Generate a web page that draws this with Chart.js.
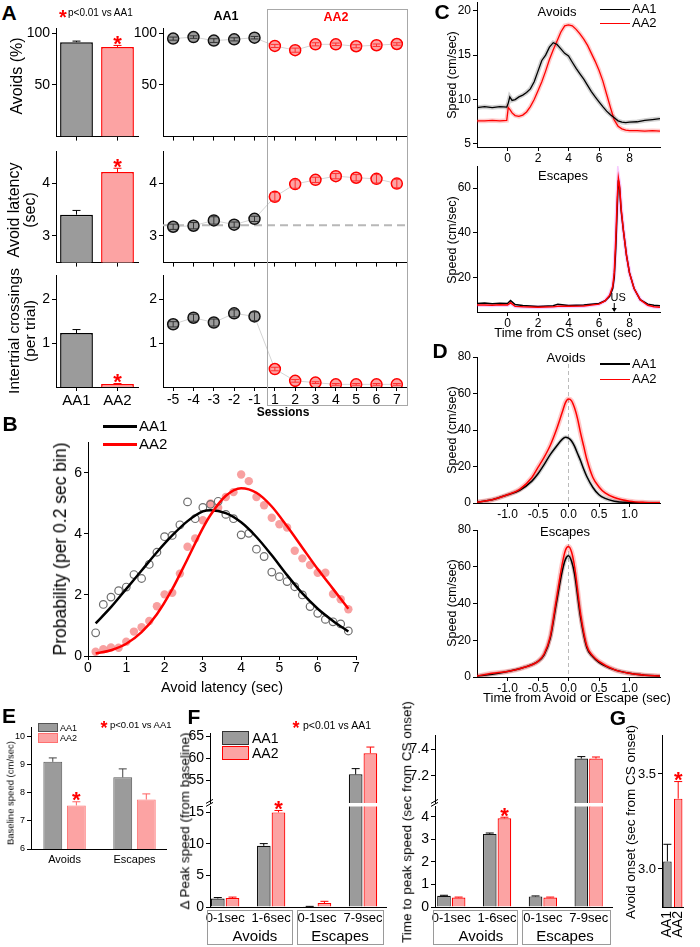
<!DOCTYPE html>
<html>
<head>
<meta charset="utf-8">
<script src="https://cdn.jsdelivr.net/npm/chart.js@4.4.1/dist/chart.umd.min.js"></script>
<style>
body { margin: 0; background: #fff; }
#fig { position: relative; width: 700px; height: 947px; overflow: hidden; background: #fff;
       font-family: 'Liberation Sans', Arial, sans-serif; color: #000; }
#fig canvas { position: absolute; }
#fig div { position: absolute; white-space: nowrap; line-height: 1.15; }
</style>
</head>
<body>
<div id="fig"></div>
<script>
// ---------- data ----------
const groups = ['AA1', 'AA2'];
// A, left column (group means)
const avoidPct = [91.5, 86.8], avoidPctErr = [1.0, 1.5];
const avoidLat = [3.4, 4.21], avoidLatErr = [0.08, 0.07];
const crossings = [1.23, 0.07], crossingsErr = [0.08, 0.01];

// A, right column (per session)
const sessions = ['-5', '-4', '-3', '-2', '-1', '1', '2', '3', '4', '5', '6', '7'];
const sesAvoidAA1 = [94.9, 96.4, 93.0, 94.2, 95.8];
const sesAvoidAA2 = [87.8, 83.7, 89.4, 89.4, 87.5, 88.5, 89.7];
const sesAvoidErr = [1.5, 1.2, 1.8, 1.5, 1.2, 1.5, 2.0, 1.5, 1.2, 1.5, 1.2, 1.2];
const sesLatAA1 = [3.17, 3.19, 3.29, 3.21, 3.32];
const sesLatAA2 = [3.74, 3.98, 4.06, 4.13, 4.1, 4.08, 3.99];
const sesLatErr = [0.05, 0.06, 0.07, 0.05, 0.05, 0.08, 0.08, 0.05, 0.05, 0.06, 0.08, 0.08];
const refLatency = 3.2;
const sesCrossAA1 = [1.43, 1.58, 1.47, 1.68, 1.61];
const sesCrossAA2 = [0.41, 0.14, 0.1, 0.06, 0.06, 0.06, 0.06];
const sesCrossErr = [0.06, 0.08, 0.08, 0.08, 0.1, 0.04, 0.03, 0.02, 0.02, 0.02, 0.02, 0.02];

// B, latency distributions
const bBins = [0.2, 0.4, 0.6, 0.8, 1.0, 1.2, 1.4, 1.6, 1.8, 2.0, 2.2, 2.4, 2.6, 2.8, 3.0, 3.2, 3.4,
               3.6, 3.8, 4.0, 4.2, 4.4, 4.6, 4.8, 5.0, 5.2, 5.4, 5.6, 5.8, 6.0, 6.2, 6.4, 6.6, 6.8];
const bAA1 = [0.76, 1.69, 1.93, 2.14, 2.26, 2.67, 2.54, 3.0, 3.4, 3.91, 3.95, 4.3, 5.05, 4.5, 4.87, 4.97, 5.07,
              4.64, 4.5, 3.97, 4.02, 3.5, 3.26, 2.75, 2.6, 2.44, 2.27, 2.0, 1.62, 1.4, 1.2, 1.12, 1.05, 0.82];
const bAA2 = [0.14, 0.22, 0.28, 0.27, 0.47, 0.8, 0.94, 1.15, 1.63, 2.02, 2.07, 2.7, 3.58, 3.85, 4.45, 5.0, 4.86,
              5.21, 5.37, 5.95, 5.73, 5.21, 4.94, 4.53, 4.32, 4.21, 3.45, 3.2, 2.98, 2.73, 2.73, 2.03, 1.86, 1.53];
const bFitX = [0.2, 0.6, 1.0, 1.4, 1.8, 2.2, 2.6, 3.0, 3.2, 3.6, 4.0, 4.4, 4.8, 5.2, 5.6, 6.0, 6.4, 6.8];
const bFitAA1 = [1.07, 1.6, 2.2, 2.8, 3.4, 3.95, 4.42, 4.74, 4.78, 4.68, 4.38, 3.9, 3.3, 2.65, 2.05, 1.55, 1.15, 0.8];
const bFitAA2 = [0.08, 0.19, 0.4, 0.78, 1.37, 2.19, 3.18, 4.19, 4.62, 5.25, 5.5, 5.35, 4.9, 4.25, 3.55, 2.85, 2.2, 1.55];
const bTicks = [0, 1, 2, 3, 4, 5, 6, 7];

// C, speed from CS onset
const cAvT = [-2, -1.5, -1, -0.5, -0.05, 0.05, 0.15, 0.3, 0.5, 0.75, 1, 1.25, 1.5, 1.75, 2, 2.25, 2.5, 2.75, 3,
              3.25, 3.5, 3.75, 4, 4.25, 4.5, 4.75, 5, 5.25, 5.5, 5.75, 6, 6.25, 6.5, 6.75, 7, 7.25, 7.5, 7.75, 8,
              8.5, 9, 9.5, 10];
const cAvAA1 = [9.1, 9.2, 9.1, 9.2, 9.15, 9.6, 10.3, 9.9, 10.0, 10.3, 10.5, 10.8, 11.2, 12.0, 13.2, 14.4, 15.0,
                15.9, 16.4, 16.2, 15.7, 15.2, 14.9, 14.2, 13.5, 12.9, 12.3, 11.6, 10.9, 10.3, 9.75, 9.2, 8.7,
                8.3, 7.95, 7.6, 7.45, 7.4, 7.45, 7.5, 7.65, 7.75, 7.85];
const cAvAA2 = [7.6, 7.6, 7.65, 7.6, 7.65, 9.1, 8.9, 8.5, 8.2, 8.1, 8.25, 8.6, 9.2, 10.0, 11.0, 12.0, 13.2,
                14.5, 15.6, 16.6, 17.6, 18.3, 18.4, 18.3, 17.9, 17.4, 16.8, 16.1, 15.2, 14.3, 13.3, 12.1, 10.6,
                9.1, 7.7, 7.0, 6.7, 6.55, 6.5, 6.5, 6.45, 6.5, 6.45];
const cEsT = [-2, -1.5, -1, -0.5, 0, 0.2, 0.5, 1, 2, 3, 3.3, 4, 5, 6, 6.4, 6.7, 6.9, 7.0, 7.1, 7.2, 7.27,
              7.35, 7.45, 7.6, 7.8, 8.0, 8.3, 8.7, 9.2, 9.6, 10];
const cEsAA1 = [8.3, 8.5, 8.2, 8.4, 8.3, 9.6, 7.8, 7.4, 7.0, 7.3, 8.0, 7.4, 7.6, 8.3, 9.5, 11.5, 15, 20, 33, 52,
                63.5, 60, 50, 41, 30, 22, 15, 10, 8, 7.5, 7.3];
const cEsAA2 = [7.6, 7.6, 7.5, 7.7, 7.6, 8.6, 7.0, 6.8, 6.6, 6.8, 7.0, 7.0, 7.2, 8.0, 9.5, 12, 16, 22, 37, 56,
                64.5, 61, 51, 41, 30, 22, 15, 10, 7.5, 6.8, 6.6];
const usTime = 7;

// D, speed around the response
const dAvT = [-1.5, -1.25, -1.0, -0.8, -0.6, -0.5, -0.4, -0.3, -0.2, -0.1, -0.05, 0, 0.05, 0.1, 0.15, 0.2,
              0.25, 0.3, 0.4, 0.5, 0.6, 0.75, 1.0, 1.25, 1.5];
const dAvAA1 = [0.5, 1.8, 4.5, 7, 12, 16, 21, 26.5, 31, 35, 36, 35.5, 34, 31, 27, 23, 18.5, 14.5, 8.5, 4.5, 2.5,
                1.0, 0.3, 0.1, 0];
const dAvAA2 = [0.5, 1.8, 4.5, 7.5, 14, 19.5, 25, 31.5, 40, 50, 55, 57, 56, 52, 46, 38, 31, 24, 14, 8.8, 5.5,
                3, 1.0, 0.3, 0.1];
const dEsT = [-1.5, -1.25, -1.0, -0.75, -0.5, -0.4, -0.3, -0.2, -0.1, -0.05, 0, 0.05, 0.1, 0.2, 0.3, 0.4, 0.5,
              0.75, 1.0, 1.25, 1.5];
const dEsAA1 = [0.5, 1.5, 3, 5, 8.5, 12, 21, 40, 58, 64, 66, 63, 56, 32, 16, 11, 8, 4, 2, 1, 0.5];
const dEsAA2 = [0.5, 2.0, 3, 5, 8.5, 12.5, 22, 42, 62, 69, 71, 68, 60, 34, 17, 11.5, 8.5, 4, 2, 1, 0.5];

// E, baseline speed
const baseCats = ['Avoids', 'Escapes'];
const baseAA1 = [9.1, 8.55], baseAA1Err = [0.14, 0.3];
const baseAA2 = [7.55, 7.76], baseAA2Err = [0.13, 0.2];

// F, peak speed and time to peak
const fCats = ['0-1sec', '1-6sec', '0-1sec', '7-9sec'];
const peakAA1 = [1.35, 9.7, 0.05, 56.3], peakAA1Err = [0.15, 0.35, 0.05, 1.3];
const peakAA2 = [1.42, 15.0, 0.63, 61.1], peakAA2Err = [0.15, 0.3, 0.27, 1.4];
const tpAA1 = [0.5, 3.24, 0.47, 7.33], tpAA1Err = [0.02, 0.04, 0.02, 0.015];
const tpAA2 = [0.42, 3.93, 0.42, 7.33], tpAA2Err = [0.02, 0.05, 0.02, 0.012];

// G, avoid onset
const onset = [3.04, 3.37], onsetErr = [0.09, 0.09];

// ---------- helpers ----------
const GREY = '#9b9b9b', PINK = '#fca3a3', RED = '#ff0000';
Chart.defaults.font.family = "'Liberation Sans', Arial, sans-serif";
Chart.defaults.color = '#000';
const fig = document.getElementById('fig');

// error bars (and significance stars) drawn from the y scale
const errBars = {
  id: 'errBars',
  afterDatasetsDraw(chart) {
    const ctx = chart.ctx, a = chart.chartArea, ys = chart.scales.y;
    chart.data.datasets.forEach((ds, i) => {
      if (!ds.err) return;
      chart.getDatasetMeta(i).data.forEach((el, j) => {
        const raw = ds.data[j];
        const v = typeof raw === 'object' ? raw.y : raw;
        const e = ds.err[j];
        const col = Array.isArray(ds.errColor) ? ds.errColor[j] : ds.errColor;
        const top = ys.getPixelForValue(v + e);
        const bot = ys.getPixelForValue(ds.errBoth ? v - e : v);
        const cw = ds.capW || 4;
        ctx.save();
        ctx.beginPath();
        ctx.rect(a.left, a.top, a.right - a.left, a.bottom - a.top);
        ctx.clip();
        ctx.strokeStyle = col;
        ctx.lineWidth = 1;
        ctx.beginPath();
        ctx.moveTo(el.x, bot); ctx.lineTo(el.x, top);
        ctx.moveTo(el.x - cw, top); ctx.lineTo(el.x + cw, top);
        if (ds.errBoth) { ctx.moveTo(el.x - cw, bot); ctx.lineTo(el.x + cw, bot); }
        ctx.stroke();
        ctx.restore();
        if (ds.star && ds.star[j]) {
          ctx.save();
          ctx.fillStyle = RED;
          ctx.font = "bold 22px 'Liberation Sans', Arial";
          ctx.textAlign = 'center';
          ctx.fillText('*', el.x, top - 7 + 0.57 * 22);
          ctx.restore();
        }
      });
    });
  }
};

// dashed reference line
const refLine = {
  id: 'refLine',
  beforeDatasetsDraw(chart, args, opt) {
    if (!opt || opt.value === undefined) return;
    const ctx = chart.ctx, a = chart.chartArea;
    ctx.save();
    ctx.strokeStyle = opt.color || '#b5b5b5';
    ctx.lineWidth = opt.width || 1;
    ctx.setLineDash(opt.dash || [4, 3]);
    ctx.beginPath();
    if (opt.axis === 'x') {
      const x = chart.scales.x.getPixelForValue(opt.value);
      ctx.moveTo(x, a.top); ctx.lineTo(x, a.bottom);
    } else {
      const y = chart.scales.y.getPixelForValue(opt.value);
      ctx.moveTo(a.left, y); ctx.lineTo(a.right, y);
    }
    ctx.stroke();
    ctx.restore();
  }
};

// axis break marks on the lower half of a broken axis
const brk = {
  id: 'brk',
  afterDraw(chart) {
    const ctx = chart.ctx, x = chart.chartArea.left, y = chart.chartArea.top;
    ctx.save();
    ctx.strokeStyle = '#000'; ctx.lineWidth = 1;
    ctx.beginPath();
    ctx.moveTo(x - 4, y); ctx.lineTo(x + 3, y - 4);
    ctx.moveTo(x - 4, y - 3); ctx.lineTo(x + 3, y - 7);
    ctx.stroke();
    ctx.restore();
  }
};

// US arrow in the escape trace
const usMark = {
  id: 'usMark',
  afterDraw(chart) {
    const ctx = chart.ctx, b = chart.chartArea.bottom;
    const x = chart.scales.x.getPixelForValue(usTime);
    ctx.save();
    ctx.strokeStyle = '#000'; ctx.fillStyle = '#000'; ctx.lineWidth = 1;
    ctx.beginPath(); ctx.moveTo(x, b - 9); ctx.lineTo(x, b - 1); ctx.stroke();
    ctx.beginPath(); ctx.moveTo(x - 2.5, b - 4); ctx.lineTo(x + 2.5, b - 4); ctx.lineTo(x, b); ctx.fill();
    ctx.font = "11px 'Liberation Sans', Arial";
    ctx.textAlign = 'center';
    ctx.fillText('US', x + 4, b - 11);
    ctx.restore();
  }
};

function yAx(min, max, vals, size, fmt) {
  return {
    type: 'linear', min: min, max: max,
    border: { color: '#000', width: 1 },
    grid: { drawOnChartArea: false, tickLength: 4, color: '#000', offset: false },
    afterBuildTicks: s => { s.ticks = vals.map(v => ({ value: v })); },
    ticks: { color: '#000', font: { size: size }, padding: 2, autoSkip: false, maxRotation: 0,
             callback: fmt || (v => v) }
  };
}
function xLin(min, max, vals, size, fmt, noTicks) {
  const a = yAx(min, max, vals, size, fmt);
  a.offset = false;
  a.ticks.padding = 0;
  if (noTicks) { a.grid.drawTicks = false; a.ticks.padding = 4; }
  return a;
}
function xCat(size, show, rot) {
  return {
    type: 'category', offset: true,
    border: { color: '#000', width: 1 },
    grid: { drawOnChartArea: false, tickLength: 4, color: '#000', offset: false },
    ticks: { display: show, color: '#000', font: { size: size }, padding: 1, autoSkip: false,
             maxRotation: rot || 0, minRotation: rot || 0 }
  };
}
function pts(xs, ys) { return xs.map((x, i) => ({ x: x, y: ys[i] })); }
function trace(xs, ys, col, w, smooth) {
  return { data: pts(xs, ys), showLine: true, borderColor: col, borderWidth: w, pointRadius: 0,
           tension: 0, cubicInterpolationMode: smooth ? 'monotone' : 'default' };
}

// box = plot area [left, top, right, bottom] on the page,
// m = [left axis width, top pad, right pad, bottom axis height, extra bottom pad]
function plot(box, m, cfg) {
  const pb = m[4] || 0;
  const w = box[2] - box[0] + m[0] + m[2], h = box[3] - box[1] + m[1] + m[3] + pb;
  const c = document.createElement('canvas');
  c.width = w; c.height = h;
  c.style.left = (box[0] - m[0]) + 'px'; c.style.top = (box[1] - m[1]) + 'px';
  c.style.width = w + 'px'; c.style.height = h + 'px';
  fig.appendChild(c);
  const o = cfg.options;
  o.responsive = false; o.animation = false; o.events = [];
  o.layout = { padding: { left: 0, top: m[1], right: m[2], bottom: pb } };
  o.plugins = Object.assign({ legend: { display: false }, tooltip: { enabled: false } }, o.plugins || {});
  o.scales.x.afterFit = s => { s.height = m[3]; };
  o.scales.y.afterFit = s => { s.width = m[0]; };
  cfg.plugins = [errBars, refLine].concat(cfg.plugins || []);
  return new Chart(c, cfg);
}

// ---------- A: group bars ----------
function barA(box, mb, vals, errs, yMin, yMax, ticks, showX) {
  plot(box, [34, 10, 6, mb], {
    type: 'bar',
    data: { labels: groups, datasets: [{
      data: vals, err: errs, errColor: ['#000', RED], star: [false, true], capW: 4,
      backgroundColor: [GREY, PINK], borderColor: ['#000', RED], borderWidth: 1.5,
      barPercentage: 0.8, categoryPercentage: 1
    }] },
    options: { scales: { x: xCat(15, showX), y: yAx(yMin, yMax, ticks, 14) } }
  });
}
barA([56, 28, 138, 137], 10, avoidPct, avoidPctErr, 0, 104.8, [50, 100], false);
barA([56, 151, 138, 263], 10, avoidLat, avoidLatErr, 2.49, 4.6, [3, 4], false);
barA([56, 275, 138, 387], 26, crossings, crossingsErr, 0, 2.545, [1, 2], true);

// ---------- A: sessions ----------
function sesA(box, mb, aa1, aa2, errs, yMin, yMax, ticks, showX, ref) {
  const isA = sessions.map((s, i) => i < aa1.length);
  plot(box, [34, 10, 8, mb], {
    type: 'line',
    data: { labels: sessions, datasets: [{
      data: aa1.concat(aa2), err: errs, errBoth: true, capW: 4,
      errColor: isA.map(a => a ? '#333' : '#ff3030'),
      borderColor: '#d4d4d4', borderWidth: 1, tension: 0,
      pointRadius: 5.5, pointBorderWidth: 1.5,
      pointBackgroundColor: isA.map(a => a ? GREY : PINK),
      pointBorderColor: isA.map(a => a ? '#111' : RED)
    }] },
    options: { scales: { x: xCat(14, showX), y: yAx(yMin, yMax, ticks, 14) },
               plugins: { refLine: ref || {} } }
  });
}
sesA([163, 28, 407, 137], 10, sesAvoidAA1, sesAvoidAA2, sesAvoidErr, 0, 104.8, [50, 100], false);
sesA([163, 151, 407, 263], 10, sesLatAA1, sesLatAA2, sesLatErr, 2.49, 4.6, [3, 4], false,
     { axis: 'y', value: refLatency, width: 2, dash: [8, 5], color: '#b8b8b8' });
sesA([163, 275, 407, 387], 24, sesCrossAA1, sesCrossAA2, sesCrossErr, 0, 2.545, [1, 2], true);

// ---------- B ----------
plot([88, 442, 356, 656], [30, 10, 10, 24], {
  type: 'scatter',
  data: { datasets: [
    trace(bFitX, bFitAA2, RED, 2.5, true),
    trace(bFitX, bFitAA1, '#000', 2.5, true),
    { data: pts(bBins, bAA1), pointRadius: 3.8, pointBorderWidth: 1.2, pointBorderColor: '#6e6e6e',
      pointBackgroundColor: 'rgba(255,255,255,0)' },
    { data: pts(bBins, bAA2), pointRadius: 4.2, pointBorderWidth: 0,
      pointBackgroundColor: 'rgba(246,128,128,0.75)' }
  ] },
  options: { scales: { x: xLin(0, 7, bTicks, 14), y: yAx(0, 7, [0, 2, 4, 6], 14) } }
});

// ---------- C ----------
plot([477, 2, 660, 147], [28, 10, 6, 18], {
  type: 'scatter',
  data: { datasets: [
    trace(cAvT, cAvAA1, '#000', 1.3), trace(cAvT, cAvAA2, RED, 1.3),
    trace(cAvT, cAvAA1, 'rgba(0,0,0,0.18)', 4.5), trace(cAvT, cAvAA2, 'rgba(255,0,0,0.2)', 4.5)
  ] },
  options: { scales: { x: xLin(-2, 10, [0, 2, 4, 6, 8], 12), y: yAx(4.66, 20.98, [5, 10, 15, 20], 12) } }
});
plot([477, 166, 660, 312], [28, 10, 6, 18], {
  type: 'scatter',
  data: { datasets: [
    trace(cEsT, cEsAA2, RED, 1.5), trace(cEsT, cEsAA1, '#000', 1.5),
    trace(cEsT, cEsAA2, 'rgba(220,0,255,0.2)', 4)
  ] },
  options: { scales: { x: xLin(-2, 10, [0, 2, 4, 6, 8], 12), y: yAx(4.48, 69.88, [20, 40, 60], 12) } },
  plugins: [usMark]
});

// ---------- D ----------
const dFmt = v => v.toFixed(1);
plot([477, 357, 660, 503], [28, 10, 6, 18], {
  type: 'scatter',
  data: { datasets: [
    trace(dAvT, dAvAA2, RED, 1.5, true), trace(dAvT, dAvAA1, '#000', 1.5, true),
    trace(dAvT, dAvAA2, 'rgba(255,0,0,0.22)', 5, true), trace(dAvT, dAvAA1, 'rgba(0,0,0,0.18)', 4, true)
  ] },
  options: { scales: { x: xLin(-1.5, 1.5, [-1, -0.5, 0, 0.5, 1], 12, dFmt), y: yAx(0, 80, [0, 20, 40, 60, 80], 12) },
             plugins: { refLine: { axis: 'x', value: 0, color: '#bbbbbb', dash: [4, 3], width: 1 } } }
});
plot([477, 530, 660, 677], [28, 10, 6, 18], {
  type: 'scatter',
  data: { datasets: [
    trace(dEsT, dEsAA2, RED, 1.5, true), trace(dEsT, dEsAA1, '#000', 1.5, true),
    trace(dEsT, dEsAA2, 'rgba(255,0,0,0.22)', 5, true), trace(dEsT, dEsAA1, 'rgba(0,0,0,0.18)', 4, true)
  ] },
  options: { scales: { x: xLin(-1.5, 1.5, [-1, -0.5, 0, 0.5, 1], 12, dFmt), y: yAx(0, 80, [0, 20, 40, 60, 80], 12) },
             plugins: { refLine: { axis: 'x', value: 0, color: '#bbbbbb', dash: [4, 3], width: 1 } } }
});

// ---------- E ----------
const eIdx = baseCats.map((c, i) => i);
plot([31, 727, 166, 849], [24, 10, 4, 18], {
  type: 'bar',
  data: { datasets: [
    { data: pts(eIdx, baseAA1), err: baseAA1Err, errColor: '#444', backgroundColor: GREY, borderColor: '#5a5a5a',
      borderWidth: 1, categoryPercentage: 0.674, barPercentage: 0.8 },
    { data: pts(eIdx, baseAA2), err: baseAA2Err, errColor: '#ff6060', star: [true, false], backgroundColor: PINK,
      borderColor: '#ff7070', borderWidth: 1, categoryPercentage: 0.674, barPercentage: 0.8 }
  ] },
  options: { scales: { x: xLin(-0.48, 1.45, eIdx, 11, v => baseCats[v], true), y: yAx(6, 10.34, [6, 7, 8, 9, 10], 9) } }
});

// ---------- F (broken axes) ----------
const fIdx = fCats.map((c, i) => i);
function fBars(box, m, aa1, e1, aa2, e2, yAxis, xMin, xMax, lower) {
  const x = xLin(xMin, xMax, fIdx, 13, v => fCats[v], true);
  if (!lower) x.display = false;
  plot(box, m, {
    type: 'bar',
    data: { datasets: [
      { data: pts(fIdx, aa1), err: e1, errColor: '#000', backgroundColor: GREY, borderColor: '#111',
        borderWidth: 1.2, categoryPercentage: 0.64, barPercentage: 0.93 },
      { data: pts(fIdx, aa2), err: e2, errColor: RED, star: lower ? [false, true, false, false] : null,
        backgroundColor: PINK, borderColor: RED, borderWidth: 1.2, categoryPercentage: 0.64, barPercentage: 0.93 }
    ] },
    options: { scales: { x: x, y: yAxis } },
    plugins: lower ? [brk] : []
  });
}
fBars([210, 733, 386, 803], [30, 10, 4, 0, 12], peakAA1, peakAA1Err, peakAA2, peakAA2Err,
      yAx(49.8, 65.6, [55, 60, 65], 14), -0.33, 3.5, false);
fBars([210, 806, 386, 907], [30, 10, 4, 40], peakAA1, peakAA1Err, peakAA2, peakAA2Err,
      yAx(0, 15.95, [0, 5, 10, 15], 14), -0.33, 3.5, true);
fBars([435, 735, 612, 803], [30, 10, 4, 0, 12], tpAA1, tpAA1Err, tpAA2, tpAA2Err,
      yAx(6.995, 7.505, [7.2, 7.4], 14, v => v.toFixed(1)), -0.356, 3.51, false);
fBars([435, 806, 612, 907], [30, 10, 4, 40], tpAA1, tpAA1Err, tpAA2, tpAA2Err,
      yAx(0, 4.46, [0, 1, 2, 3, 4], 14), -0.356, 3.51, true);

// ---------- G ----------
const gx = xCat(14, true, 90);
gx.grid.drawTicks = false; gx.ticks.padding = 4;
plot([662, 735, 696, 907], [32, 10, 4, 42], {
  type: 'bar',
  data: { labels: groups, datasets: [{
    data: onset, err: onsetErr, errColor: ['#000', RED], star: [false, true], capW: 4,
    backgroundColor: [GREY, PINK], borderColor: ['#111', RED], borderWidth: 1.2,
    barPercentage: 0.79, categoryPercentage: 1
  }] },
  options: { scales: { x: gx, y: yAx(2.8, 3.705, [3.0, 3.5], 13, v => v.toFixed(1)) } }
});

// ---------- text, legends, frames ----------
function txt(x, y, s, css, mode) {
  const d = document.createElement('div');
  d.innerHTML = s;
  let tf = mode === 'l' ? 'translate(0,-50%)' : 'translate(-50%,-50%)';
  if (mode === 'r') tf += ' rotate(-90deg)';
  d.style.cssText = 'left:' + x + 'px;top:' + y + 'px;transform:' + tf + ';text-align:center;' + (css || '');
  fig.appendChild(d);
}
function rect(x, y, w, h, css) {
  const d = document.createElement('div');
  d.style.cssText = 'left:' + x + 'px;top:' + y + 'px;width:' + w + 'px;height:' + h + 'px;box-sizing:border-box;' + css;
  fig.appendChild(d);
}
const LET = 'font-weight:bold;font-size:21px';
const star = (x, y, fs) => txt(x, y + 0.22 * fs, '*', 'color:red;font-weight:bold;font-size:' + fs + 'px');

// A
txt(9, 13, 'A', LET);
star(63, 12.5, 20);
txt(68, 12.7, 'p&lt;0.01 vs AA1', 'font-size:10px', 'l');
rect(267, 9, 141, 397, 'border:1px solid #a8a8a8');
txt(226, 16, 'AA1', 'font-weight:bold;font-size:12.5px');
txt(336, 17, 'AA2', 'font-weight:bold;font-size:12.5px;color:red');
txt(17, 76, 'Avoids (%)', 'font-size:16px', 'r');
txt(22, 210, 'Avoid latency<br>(sec)', 'font-size:16px;line-height:16px', 'r');
txt(22, 331, 'Intertrial crossings<br>(per trial)', 'font-size:15.5px;line-height:16px', 'r');
txt(283, 413, 'Sessions', 'font-weight:bold;font-size:12px');

// B
txt(10, 424, 'B', LET);
rect(103, 424.5, 34, 3, 'background:#000');
txt(139, 426, 'AA1', 'font-size:15px', 'l');
rect(103, 442.5, 34, 3, 'background:red');
txt(139, 444, 'AA2', 'font-size:15px', 'l');
txt(60, 549, 'Probability (per 0.2 sec bin)', 'font-size:17.5px', 'r');
txt(222, 687, 'Avoid latency (sec)', 'font-size:14.5px');

// C
txt(442, 12, 'C', LET);
txt(557, 12, 'Avoids', 'font-size:13px');
rect(600, 8.5, 30, 1.6, 'background:#000');
txt(632, 9.3, 'AA1', 'font-size:13px', 'l');
rect(600, 22.5, 30, 1.6, 'background:red');
txt(632, 23.3, 'AA2', 'font-size:13px', 'l');
txt(452, 75, 'Speed (cm/sec)', 'font-size:12.5px', 'r');
txt(563, 176, 'Escapes', 'font-size:13px');
txt(452, 240, 'Speed (cm/sec)', 'font-size:12.5px', 'r');
txt(568, 333, 'Time from CS onset (sec)', 'font-size:13px');

// D
txt(440, 351, 'D', LET);
txt(566, 358, 'Avoids', 'font-size:13px');
rect(600, 363.3, 30, 1.6, 'background:#000');
txt(632, 364, 'AA1', 'font-size:13px', 'l');
rect(600, 378.5, 30, 1.6, 'background:red');
txt(632, 379.3, 'AA2', 'font-size:13px', 'l');
txt(452, 430, 'Speed (cm/sec)', 'font-size:12.5px', 'r');
txt(565, 532, 'Escapes', 'font-size:13px');
txt(452, 603, 'Speed (cm/sec)', 'font-size:12.5px', 'r');
txt(577, 698, 'Time from Avoid or Escape (sec)', 'font-size:13px');

// E
txt(9, 716, 'E', LET);
rect(38, 722.7, 20, 9.6, 'background:' + GREY + ';border:1px solid #555');
txt(60, 727.5, 'AA1', 'font-size:9px', 'l');
rect(38, 733, 20, 9.6, 'background:' + PINK + ';border:1px solid #ff7070');
txt(60, 738, 'AA2', 'font-size:9px', 'l');
star(104, 724, 18);
txt(110, 724.5, 'p&lt;0.01 vs AA1', 'font-size:9.5px', 'l');
txt(11, 793, 'Baseline speed (cm/sec)', 'font-size:9.5px', 'r');

// F
txt(194, 717, 'F', LET);
rect(222, 731, 27, 13.5, 'background:' + GREY + ';border:1.5px solid #333');
txt(252, 737.7, 'AA1', 'font-size:14px', 'l');
rect(222, 746, 27, 14, 'background:' + PINK + ';border:1.5px solid red');
txt(252, 753, 'AA2', 'font-size:14px', 'l');
star(296, 724, 18);
txt(303, 724.5, 'p&lt;0.01 vs AA1', 'font-size:10.5px', 'l');
txt(185, 821, '&Delta; Peak speed (from baseline)', 'font-size:13.5px', 'r');
rect(207, 910, 86, 35, 'border:1px solid #9a9a9a');
txt(255, 936, 'Avoids', 'font-size:15px');
rect(297, 910, 87, 35, 'border:1px solid #9a9a9a');
txt(340, 936, 'Escapes', 'font-size:15px');
txt(407, 822, 'Time to peak speed (sec from CS onset)', 'font-size:13.5px', 'r');
rect(433, 910, 85, 35, 'border:1px solid #9a9a9a');
txt(481, 936, 'Avoids', 'font-size:15px');
rect(522, 910, 89, 35, 'border:1px solid #9a9a9a');
txt(565, 936, 'Escapes', 'font-size:15px');

// G
txt(618, 718, 'G', LET);
txt(631, 822, 'Avoid onset (sec from CS onset)', 'font-size:13.5px', 'r');
</script>
</body>
</html>
